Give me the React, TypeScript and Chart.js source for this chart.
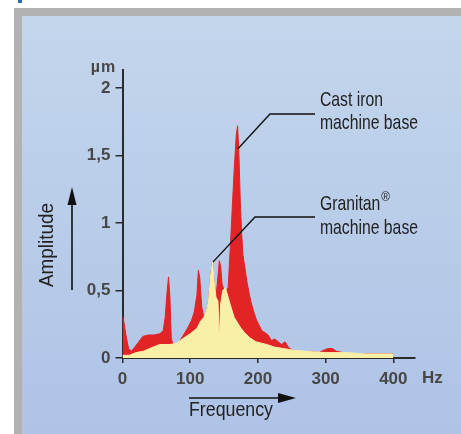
import { useEffect, useRef } from "react";
import { Chart, registerables } from "chart.js";

Chart.register(...registerables);

// ---- data ----
const xTicks = [0, 100, 200, 300, 400];
const xTickLabels = ["0", "100", "200", "300", "400"];
const yTicks = [0, 0.5, 1, 1.5, 2];
const yTickLabels = ["0", "0,5", "1", "1,5", "2"];

const castIronHz = [
  0, 2, 5, 9, 13, 18, 24, 30, 38, 46, 55, 60, 63, 66, 68, 70, 72, 75, 78, 84, 90, 96, 102, 106, 110,
  112, 114, 117, 120, 124, 127, 130, 133, 135, 138, 140, 143, 145, 147, 150, 153, 156, 159, 162, 165,
  168, 170, 172, 174, 176, 178, 181, 184, 187, 190, 194, 198, 202, 206, 210, 215, 220, 225, 230, 235,
  240, 245, 250, 260, 270, 280, 290, 298, 303, 310, 316, 325, 340, 360, 380, 400,
];
const castIronAmp = [
  0.31, 0.27, 0.17, 0.07, 0.05, 0.08, 0.12, 0.16, 0.17, 0.17, 0.18, 0.2, 0.3, 0.5, 0.6, 0.45, 0.15,
  0.09, 0.08, 0.12, 0.17, 0.22, 0.28, 0.34, 0.47, 0.65, 0.6, 0.38, 0.3, 0.35, 0.42, 0.6, 0.72, 0.58,
  0.45, 0.55, 0.72, 0.68, 0.55, 0.5, 0.5, 0.52, 0.8, 1.1, 1.4, 1.65, 1.72, 1.5, 1.15, 0.92, 0.76,
  0.66, 0.56, 0.48, 0.41, 0.34, 0.28, 0.24, 0.2, 0.19, 0.17, 0.13, 0.14, 0.12, 0.1, 0.12, 0.08, 0.06,
  0.05, 0.04, 0.05, 0.04, 0.06, 0.07, 0.07, 0.05, 0.04, 0.03, 0.03, 0.03, 0.03,
];

const granitanHz = [
  0, 10, 20, 31, 40, 55, 70, 80, 91, 100, 105, 110, 115, 120, 124, 127, 130, 133, 135, 138, 141,
  143, 145, 148, 152, 156, 160, 165, 170, 175, 180, 188, 197, 205, 213, 225, 238, 250, 270, 300,
  330, 360, 400,
];
const granitanAmp = [
  0.02, 0.02, 0.04, 0.05, 0.07, 0.1, 0.1, 0.11, 0.15, 0.18, 0.2, 0.22, 0.27, 0.3, 0.35, 0.42, 0.6,
  0.72, 0.58, 0.45, 0.42, 0.13, 0.4, 0.5, 0.52, 0.45, 0.38, 0.3, 0.26, 0.22, 0.19, 0.15, 0.12, 0.11,
  0.1, 0.08, 0.07, 0.06, 0.05, 0.04, 0.04, 0.03, 0.03,
];

const castIronLabel = ["Cast iron", "machine base"];
const granitanLabel = ["Granitan", "machine base"];

const RED = "rgb(226,36,38)";
const YELLOW = "rgb(249,240,168)";
const TEXT = "#222";

function fitText(
  ctx: CanvasRenderingContext2D,
  text: string,
  x: number,
  y: number,
  sx: number,
) {
  ctx.save();
  ctx.translate(x, y);
  ctx.scale(sx, 1);
  ctx.fillText(text, 0, 0);
  ctx.restore();
}

const bgPlugin = {
  id: "bgPanel",
  beforeDraw(chart: any) {
    const ctx: CanvasRenderingContext2D = chart.ctx;
    const w = chart.width;
    const h = chart.height;
    ctx.save();
    ctx.fillStyle = "#ffffff";
    ctx.fillRect(0, 0, w, h);
    ctx.fillStyle = "#b2b2b2";
    ctx.fillRect(14, 8, w - 14, h - 8);
    const g = ctx.createLinearGradient(0, 16, 0, h);
    g.addColorStop(0, "#c4d6ec");
    g.addColorStop(1, "#aec3e6");
    ctx.fillStyle = g;
    ctx.fillRect(22, 16, w - 22, h - 16);
    ctx.fillStyle = "#2a6db5";
    ctx.fillRect(18, 0, 4, 3);
    ctx.restore();
  },
};

const annPlugin = {
  id: "annotations",
  afterDraw(chart: any) {
    const ctx: CanvasRenderingContext2D = chart.ctx;
    const xs = chart.scales.x;
    const ys = chart.scales.y;
    const area = chart.chartArea;
    ctx.save();

    // unit labels
    ctx.fillStyle = "#474747";
    ctx.font = "bold 16px 'Liberation Sans', Arial, sans-serif";
    ctx.textBaseline = "alphabetic";
    ctx.textAlign = "center";
    (ctx as any).letterSpacing = "1px";
    ctx.fillText("µm", area.left - 19, area.top + 2);
    (ctx as any).letterSpacing = "0px";
    ctx.textAlign = "left";
    ctx.font = "bold 17px 'Liberation Sans', Arial, sans-serif";
    ctx.fillText("Hz", area.right + 7, area.bottom + 25);

    // annotation text
    ctx.fillStyle = TEXT;
    ctx.font = "21px 'Liberation Sans', Arial, sans-serif";
    const mb = ctx.measureText("machine base").width;
    const sx = 98 / mb;
    const tx = 320;
    fitText(ctx, castIronLabel[0], tx, 105.5, sx);
    fitText(ctx, castIronLabel[1], tx, 129, sx);
    fitText(ctx, granitanLabel[0], tx, 210, sx);
    const gw = ctx.measureText(granitanLabel[0]).width * sx;
    ctx.font = "13px 'Liberation Sans', Arial, sans-serif";
    fitText(ctx, "®", tx + gw + 1, 201, 0.9);
    ctx.font = "21px 'Liberation Sans', Arial, sans-serif";
    fitText(ctx, granitanLabel[1], tx, 233.5, sx);

    // leader lines
    ctx.strokeStyle = "#111";
    ctx.lineWidth = 1.4;
    const p1x = xs.getPixelForValue(170.5);
    const p1y = ys.getPixelForValue(1.55);
    ctx.beginPath();
    ctx.moveTo(p1x, p1y);
    ctx.lineTo(270, 114);
    ctx.lineTo(315, 114);
    ctx.stroke();
    const p2x = xs.getPixelForValue(133.5);
    const p2y = ys.getPixelForValue(0.71);
    ctx.beginPath();
    ctx.moveTo(p2x, p2y);
    ctx.lineTo(255, 217);
    ctx.lineTo(315, 217);
    ctx.stroke();

    // Frequency label + arrow
    ctx.font = "20px 'Liberation Sans', Arial, sans-serif";
    const fw = ctx.measureText("Frequency").width;
    fitText(ctx, "Frequency", 189, 416, 84 / fw);
    ctx.fillStyle = "#111";
    ctx.lineWidth = 1.6;
    ctx.beginPath();
    ctx.moveTo(189, 398);
    ctx.lineTo(282, 398);
    ctx.stroke();
    ctx.beginPath();
    ctx.moveTo(296, 398);
    ctx.lineTo(278, 393);
    ctx.lineTo(278, 403);
    ctx.closePath();
    ctx.fill();

    // Amplitude label + arrow
    ctx.fillStyle = TEXT;
    const aw = ctx.measureText("Amplitude").width;
    ctx.save();
    ctx.translate(53, 287);
    ctx.rotate(-Math.PI / 2);
    ctx.scale(84 / aw, 1);
    ctx.fillText("Amplitude", 0, 0);
    ctx.restore();
    ctx.fillStyle = "#111";
    ctx.beginPath();
    ctx.moveTo(72, 290);
    ctx.lineTo(72, 200);
    ctx.stroke();
    ctx.beginPath();
    ctx.moveTo(72, 187);
    ctx.lineTo(67.5, 205);
    ctx.lineTo(76.5, 205);
    ctx.closePath();
    ctx.fill();

    ctx.restore();
  },
};

export default function App() {
  const ref = useRef<HTMLCanvasElement | null>(null);

  useEffect(() => {
    if (!ref.current) return;
    const tickFont = { family: "'Liberation Sans', Arial, sans-serif", size: 17, weight: "bold" as const };
    const chart = new Chart(ref.current, {
      type: "line",
      data: {
        datasets: [
          {
            label: "Granitan® machine base",
            data: granitanHz.map((x, i) => ({ x, y: granitanAmp[i] })),
            borderColor: YELLOW,
            backgroundColor: YELLOW,
            borderWidth: 1,
            pointRadius: 0,
            tension: 0,
            fill: "origin",
          },
          {
            label: "Cast iron machine base",
            data: castIronHz.map((x, i) => ({ x, y: castIronAmp[i] })),
            borderColor: RED,
            backgroundColor: RED,
            borderWidth: 1,
            pointRadius: 0,
            tension: 0,
            fill: "origin",
          },
        ],
      },
      options: {
        animation: false,
        responsive: false,
        events: [],
        layout: { padding: { left: 0, top: 70, right: 46, bottom: 0 } },
        plugins: {
          legend: { display: false },
          tooltip: { enabled: false },
        },
        scales: {
          x: {
            type: "linear",
            min: 0,
            max: 432,
            afterBuildTicks: (s: any) => {
              s.ticks = xTicks.map((v) => ({ value: v }));
            },
            afterFit: (s: any) => {
              s.height = 76;
            },
            grid: { drawOnChartArea: false, drawTicks: true, tickLength: 5, color: "#2b2b2b", lineWidth: 1.5 },
            border: { display: true, color: "#2b2b2b", width: 2 },
            ticks: {
              font: tickFont,
              color: "#474747",
              padding: 6,
              maxRotation: 0,
              autoSkip: false,
              callback: (_v: any, i: number) => xTickLabels[i],
            },
          },
          y: {
            type: "linear",
            min: 0,
            max: 2.133,
            afterBuildTicks: (s: any) => {
              s.ticks = yTicks.map((v) => ({ value: v }));
            },
            afterFit: (s: any) => {
              s.width = 122.5;
            },
            grid: { drawOnChartArea: false, drawTicks: true, tickLength: 7, color: "#2b2b2b", lineWidth: 1.5 },
            border: { display: true, color: "#2b2b2b", width: 2 },
            ticks: {
              font: tickFont,
              color: "#474747",
              padding: 5,
              autoSkip: false,
              callback: (_v: any, i: number) => yTickLabels[i],
            },
          },
        },
      },
      plugins: [bgPlugin, annPlugin],
    });
    return () => chart.destroy();
  }, []);

  return (
    <div style={{ position: "absolute", left: 0, top: 0, width: 461, height: 434 }}>
      <canvas ref={ref} width={461} height={434} style={{ width: 461, height: 434, display: "block" }} />
    </div>
  );
}
